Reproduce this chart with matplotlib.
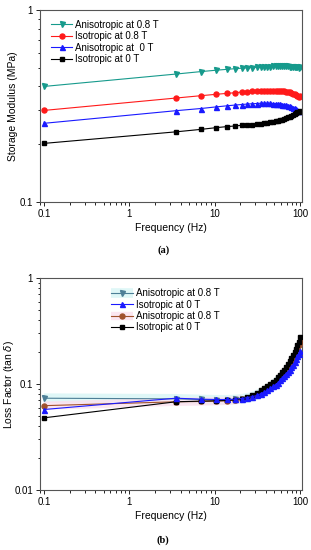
import matplotlib
matplotlib.use('Agg')
import matplotlib.pyplot as plt
from matplotlib.ticker import LogLocator, NullFormatter, FixedFormatter, FixedLocator

plt.rcParams['font.family'] = ['Liberation Sans', 'DejaVu Sans']

# Frecuencias (Hz)
freq = [0.1, 3.5, 6.9, 10.4, 13.8, 17.3, 20.7, 24.2, 27.6, 31.1, 34.5, 38.0, 41.4, 44.9, 48.3,
        51.8, 55.2, 58.7, 62.1, 65.6, 69.0, 72.5, 75.9, 79.4, 82.8, 86.3, 89.7, 93.2, 96.6, 100.0]

# (a) Storage modulus (MPa)
g_aniso_08 = [0.400, 0.464, 0.478, 0.486, 0.491, 0.495, 0.498, 0.500, 0.502, 0.504, 0.505, 0.506, 0.507, 0.508, 0.509,
              0.509, 0.510, 0.510, 0.510, 0.510, 0.509, 0.509, 0.508, 0.507, 0.506, 0.505, 0.504, 0.503, 0.502, 0.503]
g_iso_08 = [0.300, 0.348, 0.358, 0.364, 0.368, 0.371, 0.374, 0.376, 0.378, 0.379, 0.380, 0.381, 0.381, 0.381, 0.381,
            0.380, 0.380, 0.379, 0.378, 0.377, 0.375, 0.374, 0.372, 0.370, 0.367, 0.364, 0.360, 0.356, 0.352, 0.355]
g_aniso_0 = [0.257, 0.299, 0.307, 0.313, 0.317, 0.320, 0.322, 0.324, 0.325, 0.326, 0.327, 0.327, 0.327, 0.327, 0.326,
             0.326, 0.325, 0.324, 0.322, 0.321, 0.319, 0.317, 0.315, 0.313, 0.310, 0.308, 0.305, 0.302, 0.299, 0.297]
g_iso_0 = [0.202, 0.232, 0.239, 0.244, 0.247, 0.249, 0.251, 0.252, 0.253, 0.254, 0.256, 0.257, 0.258, 0.260, 0.261,
           0.263, 0.265, 0.267, 0.269, 0.271, 0.273, 0.276, 0.278, 0.281, 0.284, 0.287, 0.290, 0.293, 0.296, 0.299]

# (b) Loss factor (tan delta)
t_aniso_08 = [0.0735, 0.0725, 0.0715, 0.071, 0.071, 0.0715, 0.0725, 0.074, 0.076, 0.079, 0.082, 0.085, 0.089, 0.093, 0.097,
              0.102, 0.107, 0.113, 0.119, 0.126, 0.133, 0.141, 0.150, 0.159, 0.170, 0.182, 0.195, 0.210, 0.226, 0.243]
t_iso_0a = [0.0575, 0.0735, 0.072, 0.0715, 0.0715, 0.072, 0.073, 0.0745, 0.076, 0.078, 0.081, 0.084, 0.087, 0.091, 0.095,
            0.099, 0.103, 0.108, 0.113, 0.118, 0.124, 0.130, 0.137, 0.144, 0.152, 0.161, 0.171, 0.182, 0.194, 0.207]
t_aniso_08b = [0.0625, 0.068, 0.0685, 0.069, 0.0695, 0.0705, 0.072, 0.074, 0.077, 0.080, 0.083, 0.087, 0.091, 0.095, 0.100,
               0.105, 0.110, 0.116, 0.122, 0.129, 0.137, 0.145, 0.154, 0.164, 0.175, 0.187, 0.200, 0.215, 0.231, 0.248]
t_iso_0b = [0.048, 0.068, 0.069, 0.0695, 0.070, 0.071, 0.073, 0.0755, 0.079, 0.083, 0.087, 0.091, 0.095, 0.100, 0.105,
            0.110, 0.116, 0.122, 0.129, 0.137, 0.145, 0.154, 0.164, 0.175, 0.187, 0.200, 0.215, 0.231, 0.250, 0.275]

fig = plt.figure(figsize=(3.11, 5.50), dpi=100)
ax1 = fig.add_axes([0.1286, 0.6327, 0.842, 0.349])
ax2 = fig.add_axes([0.1286, 0.109, 0.842, 0.3855])


def style_axis(ax, ylim, yticks, ylabels, ylabel, ylabel_x):
    ax.set_xscale('log')
    ax.set_yscale('log')
    ax.set_xlim(0.09, 105)
    ax.set_ylim(*ylim)
    ax.xaxis.set_major_locator(FixedLocator([0.1, 1, 10, 100]))
    ax.xaxis.set_major_formatter(FixedFormatter(['0.1', '1', '10', '100']))
    ax.xaxis.set_minor_locator(LogLocator(base=10, subs=range(2, 10)))
    ax.xaxis.set_minor_formatter(NullFormatter())
    ax.yaxis.set_major_locator(FixedLocator(yticks))
    ax.yaxis.set_major_formatter(FixedFormatter(ylabels))
    ax.yaxis.set_minor_locator(LogLocator(base=10, subs=range(2, 10)))
    ax.yaxis.set_minor_formatter(NullFormatter())
    ax.tick_params(which='both', direction='out', labelsize=7, width=0.6, pad=2)
    ax.tick_params(which='major', length=3)
    ax.tick_params(which='minor', length=1.8)
    for sp in ax.spines.values():
        sp.set_color('#555555')
        sp.set_linewidth(0.8)
    ax.set_xlabel('Frequency (Hz)', fontsize=7.5, labelpad=3)
    ax.set_ylabel(ylabel, fontsize=7.5)
    ax.yaxis.set_label_coords(ylabel_x, 0.5)


ms = 3.6
lw = 0.8

# Panel (a)
ax1.plot(freq, g_aniso_08, color='#169a8c', marker='v', ms=ms, lw=lw, label='Anisotropic at 0.8 T')
ax1.plot(freq, g_iso_08, color='#ff1a1a', marker='o', ms=ms, lw=lw, label='Isotropic at 0.8 T')
ax1.plot(freq, g_aniso_0, color='#1a1aff', marker='^', ms=ms, lw=lw, label='Anisotropic at  0 T')
ax1.plot(freq, g_iso_0, color='black', marker='s', ms=ms - 0.5, lw=lw, label='Isotropic at 0 T')
style_axis(ax1, (0.1, 1), [0.1, 1], ['0.1', '1'], 'Storage Modulus (MPa)', -0.085)
ax1.legend(loc='upper left', bbox_to_anchor=(0.02, 0.98), frameon=False, fontsize=7,
           handlelength=2.2, handletextpad=0.3, labelspacing=0.15, borderaxespad=0.2)

# Panel (b)
g1, = ax2.plot(freq[:18], t_aniso_08[:18], color='#d8f6f6', lw=7, alpha=0.8, zorder=1,
               solid_capstyle='butt')
g2, = ax2.plot(freq[:7], t_aniso_08b[:7], color='#fbe0ee', lw=6, alpha=0.8, zorder=1,
               solid_capstyle='butt')
l1, = ax2.plot(freq, t_aniso_08, color='#4d7f97', marker='v', ms=ms, lw=lw, zorder=3)
l3, = ax2.plot(freq, t_aniso_08b, color='#a0522d', marker='o', ms=ms, lw=lw, zorder=3)
l4, = ax2.plot(freq, t_iso_0b, color='black', marker='s', ms=ms - 0.5, lw=lw, zorder=4)
l2, = ax2.plot(freq, t_iso_0a, color='#1a1aff', marker='^', ms=ms, lw=lw, zorder=5)
style_axis(ax2, (0.01, 1), [0.01, 0.1, 1], ['0.01', '0.1', '1'], r'Loss Factor (tan $\delta$)', -0.092)
ax2.legend([(g1, l1), l2, (g2, l3), l4],
           ['Anisotropic at 0.8 T', 'Isotropic at 0 T', 'Anisotropic at 0.8 T', 'Isotropic at 0 T'],
           loc='upper left', bbox_to_anchor=(0.25, 0.98), frameon=False, fontsize=7,
           handlelength=2.2, handletextpad=0.3, labelspacing=0.15, borderaxespad=0.2)

fig.text(0.525, 1 - 250 / 550, '(a)', ha='center', va='center', fontsize=7.5,
         family='Liberation Serif', fontweight='bold')
fig.text(0.525, 1 - 540 / 550, '(b)', ha='center', va='center', fontsize=7.5,
         family='Liberation Serif', fontweight='bold')

fig.savefig('out.png', dpi=100)
